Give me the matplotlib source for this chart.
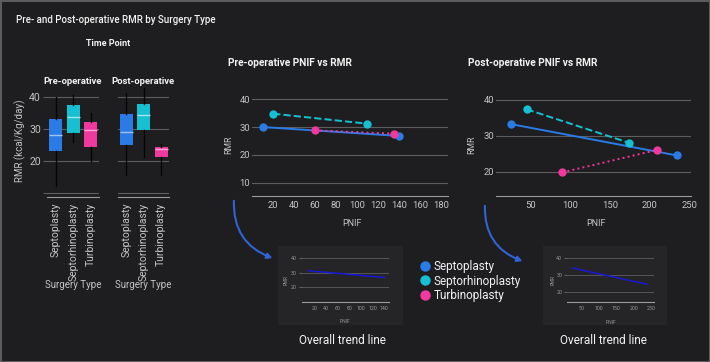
import numpy as np
import matplotlib
matplotlib.use("Agg")
import matplotlib.pyplot as plt
from matplotlib.lines import Line2D
from matplotlib.patches import Rectangle, FancyArrowPatch

plt.rcParams["font.family"] = ["Roboto", "DejaVu Sans"]

# =====================================================
# DATA
# =====================================================
surgery_types = ["Septoplasty", "Septorhinoplasty", "Turbinoplasty"]

pre_q1 = [23.2, 28.8, 24.4]
pre_med = [28.2, 33.8, 29.6]
pre_q3 = [33.1, 37.4, 32.1]
pre_lo = [12.1, 26.1, 20.1]
pre_hi = [40.0, 40.7, 35.0]

post_q1 = [24.9, 29.8, 21.4]
post_med = [29.0, 34.5, 23.8]
post_q3 = [34.6, 38.0, 24.3]
post_lo = [15.5, 21.3, 15.7]
post_hi = [41.3, 42.8, 25.4]

pre_pnif = {"Septoplasty": [10, 140], "Septorhinoplasty": [20, 110], "Turbinoplasty": [60, 135]}
pre_rmr = {"Septoplasty": [30.0, 26.8], "Septorhinoplasty": [34.8, 31.2], "Turbinoplasty": [28.8, 27.6]}
post_pnif = {"Septoplasty": [25, 234], "Septorhinoplasty": [45, 174], "Turbinoplasty": [90, 209]}
post_rmr = {"Septoplasty": [33.3, 24.6], "Septorhinoplasty": [37.4, 28.1], "Turbinoplasty": [19.9, 26.1]}

trend_pre_x = [10, 140]
trend_pre_y = [31.4, 26.8]
trend_post_x = [23, 239]
trend_post_y = [34.2, 24.4]

# =====================================================
# STYLE
# =====================================================
BG = "#1e1e20"
PANEL = "#252527"
GRID = "#5e5e5e"
SPINE = "#9a9a9a"
TICK = "#c4c4c4"
WHITE = "#f2f2f2"
COLORS = {"Septoplasty": "#2a7be6", "Septorhinoplasty": "#17bfd2", "Turbinoplasty": "#f0399e"}
MEDIANS = {"Septoplasty": "#9cc3f5", "Septorhinoplasty": "#9fe6ee", "Turbinoplasty": "#f8a8d4"}
STYLES = {"Septoplasty": "-", "Septorhinoplasty": "--", "Turbinoplasty": ":"}
TREND = "#1818d8"

W, H = 710, 362
fig = plt.figure(figsize=(W / 100, H / 100), dpi=100, facecolor=BG)


def px_axes(x0, y0, x1, y1, **kw):
    return fig.add_axes([x0 / W, 1 - y1 / H, (x1 - x0) / W, (y1 - y0) / H], **kw)


def ftext(x, y, s, **kw):
    return fig.text(x / W, 1 - y / H, s, **kw)


def clean(ax, bg="none"):
    ax.set_facecolor(bg)
    for side in ["top", "right", "left"]:
        ax.spines[side].set_visible(False)
    ax.spines["bottom"].set_color(SPINE)
    ax.grid(axis="y", color=GRID, lw=0.8)
    ax.set_axisbelow(True)


# border and inset panels
fig.add_artist(Rectangle((0.5 / W, 0.5 / H), 1 - 1 / W, 1 - 1 / H, transform=fig.transFigure,
                         fill=False, ec="#5c5c5c", lw=1.5))
for x0, x1 in [(278, 403), (543, 667)]:
    fig.add_artist(Rectangle((x0 / W, 1 - 325 / H), (x1 - x0) / W, 79 / H,
                             transform=fig.transFigure, fc=PANEL, ec="none", zorder=0))

ftext(16, 20, "Pre- and Post-operative RMR by Surgery Type", color=WHITE, fontsize=7.0,
      fontweight="medium", va="center")
ftext(108, 44, "Time Point", color=WHITE, fontsize=6.5, fontweight="bold", ha="center", va="center")

# =====================================================
# BOX PLOTS
# =====================================================
box_sets = [
    ("Pre-operative", 47, pre_q1, pre_med, pre_q3, pre_lo, pre_hi),
    ("Post-operative", 117.5, post_q1, post_med, post_q3, post_lo, post_hi),
]
for i, (title, left, q1, med, q3, lo, hi) in enumerate(box_sets):
    ax = px_axes(left, 86, left + 51.6, 196.5)
    clean(ax)
    stats = [dict(q1=q1[k], med=med[k], q3=q3[k], whislo=lo[k], whishi=hi[k], fliers=[])
             for k in range(3)]
    parts = ax.bxp(stats, positions=range(3), widths=0.72, patch_artist=True, showcaps=False)
    for k, name in enumerate(surgery_types):
        parts["boxes"][k].set(facecolor=COLORS[name], edgecolor="none")
        parts["medians"][k].set(color=MEDIANS[name], lw=1)
    for wl in parts["whiskers"]:
        wl.set(color="#050505", lw=1)
    ax.set_xlim(-0.5, 2.45)
    ax.set_ylim(8.9, 43.5)
    ax.set_yticks([10, 20, 30, 40])
    ax.set_xticks(range(3))
    ax.set_xticklabels(surgery_types, rotation=90, color=TICK, fontsize=7.5)
    ax.tick_params(axis="x", length=0, pad=4.5)
    if i == 0:
        ax.set_yticklabels(["", "20", "30", "40"], color=TICK, fontsize=7.5)
        ax.tick_params(axis="y", length=3, color=GRID, pad=1.5)
    else:
        ax.set_yticklabels([])
        ax.tick_params(axis="y", length=0)
    ax.text(0.5, 1.0, title, transform=ax.transAxes, ha="center", va="bottom",
            color=WHITE, fontsize=6.8, fontweight="bold")
    ax.text(0.5, -0.8, "Surgery Type", transform=ax.transAxes, ha="center", va="center",
            color=TICK, fontsize=7)

ftext(20, 141, "RMR (kcal/Kg/day)", rotation=90, color=TICK, fontsize=7, ha="center", va="center")

# =====================================================
# PNIF vs RMR
# =====================================================
scatter_sets = [
    ("Pre-operative PNIF vs RMR", (252.3, 93.7, 448, 195.7), (0, 187), (5.3, 42),
     range(20, 181, 20), [10, 20, 30, 40], pre_pnif, pre_rmr, 228, 229, 352),
    ("Post-operative PNIF vs RMR", (496, 92.8, 690.7, 195.7), (6.3, 251.7), (13.4, 42),
     range(50, 251, 50), [20, 30, 40], post_pnif, post_rmr, 468, 472, 596),
]
for title, rect, xl, yl, xt, yt, px, py, tx, rx, nx in scatter_sets:
    ax = px_axes(*rect)
    clean(ax)
    for name in surgery_types:
        ax.plot(px[name], py[name], ls=STYLES[name], color=COLORS[name], lw=1.4,
                marker="o", ms=6, mec="none")
    ax.set_xlim(*xl)
    ax.set_ylim(*yl)
    ax.set_xticks(list(xt))
    ax.set_yticks(yt)
    ax.tick_params(axis="both", length=0, labelcolor=TICK, labelsize=6.8)
    ax.tick_params(axis="x", pad=4)
    ax.tick_params(axis="y", pad=1.5)
    ftext(tx, 63, title, color=WHITE, fontsize=7.3, fontweight="bold", va="center")
    ftext(rx, 145, "RMR", rotation=90, color=TICK, fontsize=6.3, ha="center", va="center")
    ftext(nx, 223, "PNIF", color=TICK, fontsize=6.5, ha="center", va="center")

# =====================================================
# OVERALL TREND INSETS
# =====================================================
inset_sets = [
    ((301.7, 255.4, 389.3, 302.3), (-1.7, 148.5), (9.7, 42), range(20, 141, 20),
     trend_pre_x, trend_pre_y, 286, 342),
    ((567, 255, 654, 302.3), (7.8, 258.7), (13.6, 42), range(50, 251, 50),
     trend_post_x, trend_post_y, 553, 603),
]
for rect, xl, yl, xt, tx_, ty_, rx, cx in inset_sets:
    ax = px_axes(*rect)
    clean(ax)
    ax.grid(axis="y", color=GRID, lw=0.6)
    ax.plot(tx_, ty_, color=TREND, lw=1.1)
    ax.set_xlim(*xl)
    ax.set_ylim(*yl)
    ax.set_xticks(list(xt))
    ax.set_yticks([20, 30, 40])
    ax.tick_params(axis="both", length=2, color=GRID, labelcolor="#9a9a9a", labelsize=3.8, pad=1.5)
    ax.tick_params(axis="x", length=0, pad=2.5)
    ax.text(0.5, -0.42, "PNIF", transform=ax.transAxes, ha="center", va="center",
            color="#9a9a9a", fontsize=3.6)
    ftext(rx, 280, "RMR", rotation=90, color="#9a9a9a", fontsize=3.4, ha="center", va="center")
    ftext(cx, 340, "Overall trend line", color=WHITE, fontsize=8.5, ha="center", va="center")

# arrows
for (x0, y0), (x1, y1) in [((234, 198), (275, 259)), ((485, 203), (525, 262))]:
    fig.add_artist(FancyArrowPatch((x0 / W, 1 - y0 / H), (x1 / W, 1 - y1 / H),
                                   transform=fig.transFigure, connectionstyle="arc3,rad=0.38",
                                   arrowstyle="-|>,head_length=3,head_width=1.6",
                                   color="#2f63d6", lw=1.5))

# legend
handles = [Line2D([], [], ls="none", marker="o", ms=7.5, color=COLORS[n], mec="none")
           for n in surgery_types]
fig.legend(handles, surgery_types, loc="center left", bbox_to_anchor=(414 / W, 1 - 281 / H),
           frameon=False, fontsize=8.5, labelcolor=WHITE, handlelength=0.8,
           handletextpad=0.35, labelspacing=0.12, borderpad=0)

fig.savefig("out.png", dpi=100, facecolor=BG)
